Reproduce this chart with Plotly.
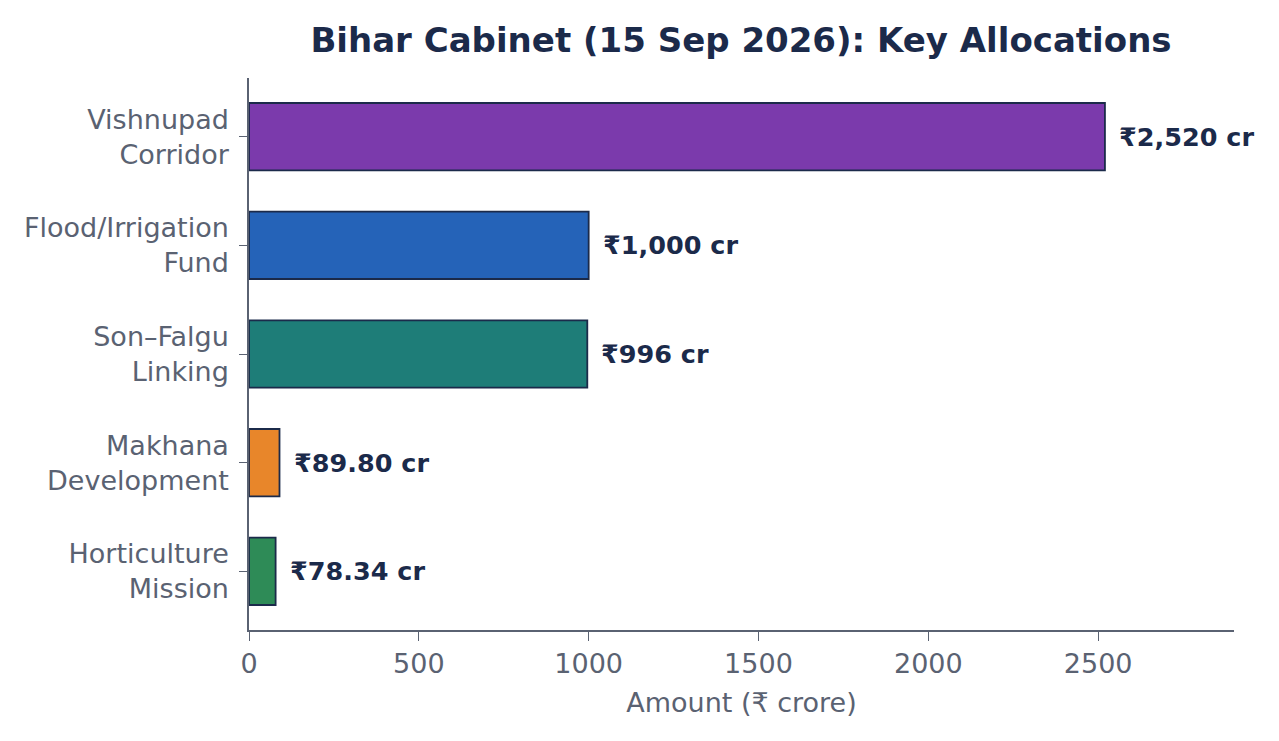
import plotly.graph_objects as go

categories = ["Vishnupad<br>Corridor", "Flood/Irrigation<br>Fund", "Son–Falgu<br>Linking",
              "Makhana<br>Development", "Horticulture<br>Mission"]
amounts = [2520, 1000, 996, 89.80, 78.34]
value_labels = ["₹2,520 cr", "₹1,000 cr", "₹996 cr", "₹89.80 cr", "₹78.34 cr"]
bar_colors = ["#7B3AAC", "#2563B8", "#1E7D78", "#E8862A", "#2E8B57"]

navy = "#1B2A4A"
grey = "#5A6272"

fig = go.Figure()
fig.add_trace(go.Bar(
    y=categories, x=amounts, orientation="h",
    marker=dict(color=bar_colors, line=dict(color=navy, width=1.8)),
    width=0.62, hoverinfo="x+y",
))

for cat, val, lab in zip(categories, amounts, value_labels):
    fig.add_annotation(x=val, y=cat, text="<b>" + lab + "</b>", showarrow=False,
                       xanchor="left", xshift=12,
                       font=dict(family="DejaVu Sans", size=25.5, color=navy))

# page body has an 8px margin, so the figure is sized to fit inside it
fig.update_layout(
    width=1263, height=725,
    paper_bgcolor="white", plot_bgcolor="white",
    margin=dict(l=241, r=37, t=70, b=103),
    showlegend=False,
    font=dict(family="DejaVu Sans", color=grey),
    title=dict(text="<b>Bihar Cabinet (15 Sep 2026): Key Allocations</b>",
               x=733 / 1263, xanchor="center", y=0.956, yanchor="middle",
               font=dict(family="DejaVu Sans", size=34, color=navy)),
)
fig.update_xaxes(
    range=[0, 2900], tickvals=[0, 500, 1000, 1500, 2000, 2500],
    showgrid=False, zeroline=False, showline=True, linecolor=grey, linewidth=1.5,
    ticks="outside", ticklen=9, tickcolor=grey, tickwidth=1.3,
    tickfont=dict(size=27, color=grey),
    title=dict(text="Amount (₹ crore)", font=dict(size=27, color=grey), standoff=15),
)
fig.update_yaxes(
    autorange=False, range=[4.54, -0.54],
    showgrid=False, zeroline=False, showline=True, linecolor=grey, linewidth=1.5,
    ticks="outside", ticklen=8, tickcolor=grey, tickwidth=1.3,
    tickfont=dict(size=27, color=grey), ticklabelstandoff=5,
)

fig.write_html("out.html")
